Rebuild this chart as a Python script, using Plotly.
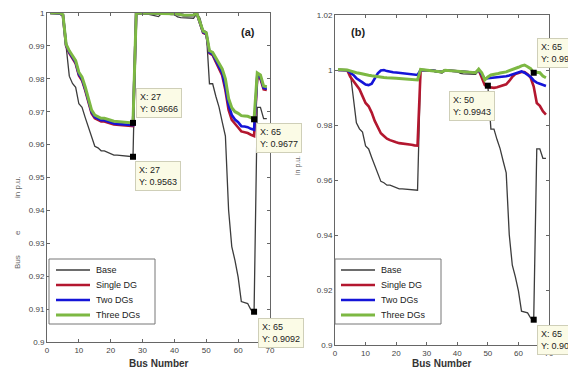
import plotly.graph_objects as go

buses = list(range(1, 70))

base = [1.0000, 1.0000, 0.9999, 0.9998, 0.9990, 0.9901, 0.9808, 0.9786, 0.9774, 0.9724,
        0.9713, 0.9682, 0.9653, 0.9624, 0.9595, 0.9590, 0.9581, 0.9581, 0.9576, 0.9573,
        0.9568, 0.9568, 0.9567, 0.9566, 0.9564, 0.9563, 0.9563, 0.9999, 0.9999, 0.9997,
        0.9997, 0.9996, 0.9993, 0.9990, 0.9989, 0.9999, 0.9997, 0.9996, 0.9995, 0.9995,
        0.9988, 0.9986, 0.9985, 0.9985, 0.9984, 0.9984, 0.9998, 0.9985, 0.9947, 0.9943,
        0.9785, 0.9785, 0.9747, 0.9714, 0.9669, 0.9626, 0.9401, 0.9290, 0.9248, 0.9197,
        0.9123, 0.9120, 0.9117, 0.9098, 0.9092, 0.9713, 0.9713, 0.9679, 0.9679]

# ---- panel (a) ----
single_a = [1.0000, 1.0000, 1.0000, 0.9999, 0.9993, 0.9900, 0.9878, 0.9862, 0.9846, 0.9810,
            0.9795, 0.9765, 0.9727, 0.9695, 0.9680, 0.9676, 0.9670, 0.9670, 0.9666, 0.9664,
            0.9661, 0.9660, 0.9659, 0.9658, 0.9657, 0.9656, 0.9656, 1.0000, 1.0000, 1.0000,
            1.0000, 0.9999, 0.9999, 0.9999, 0.9999, 1.0000, 1.0000, 0.9999, 0.9999, 0.9998,
            0.9997, 0.9994, 0.9993, 0.9993, 0.9993, 0.9994, 1.0000, 0.9970, 0.9940, 0.9935,
            0.9878, 0.9872, 0.9850, 0.9830, 0.9810, 0.9765, 0.9705, 0.9675, 0.9662, 0.9652,
            0.9640, 0.9638, 0.9635, 0.9630, 0.9626, 0.9805, 0.9800, 0.9768, 0.9766]
two_a = [1.0000, 1.0000, 1.0000, 0.9999, 0.9994, 0.9902, 0.9881, 0.9866, 0.9850, 0.9814,
         0.9799, 0.9769, 0.9731, 0.9699, 0.9684, 0.9680, 0.9674, 0.9674, 0.9670, 0.9668,
         0.9664, 0.9663, 0.9662, 0.9661, 0.9660, 0.9659, 0.9659, 1.0000, 1.0000, 1.0000,
         1.0000, 0.9999, 0.9999, 0.9999, 0.9999, 1.0000, 1.0000, 0.9999, 0.9999, 0.9998,
         0.9997, 0.9994, 0.9993, 0.9993, 0.9993, 0.9994, 1.0000, 0.9972, 0.9942, 0.9937,
         0.9880, 0.9875, 0.9855, 0.9836, 0.9818, 0.9775, 0.9720, 0.9690, 0.9676, 0.9668,
         0.9656, 0.9655, 0.9653, 0.9648, 0.9645, 0.9810, 0.9805, 0.9772, 0.9770]
three_a = [1.0000, 1.0000, 1.0000, 1.0000, 0.9995, 0.9905, 0.9885, 0.9870, 0.9855, 0.9820,
           0.9805, 0.9775, 0.9737, 0.9705, 0.9690, 0.9686, 0.9680, 0.9680, 0.9676, 0.9674,
           0.9671, 0.9670, 0.9669, 0.9668, 0.9667, 0.9666, 0.9666, 1.0000, 1.0000, 1.0000,
           1.0000, 0.9999, 0.9999, 0.9999, 0.9999, 1.0000, 1.0000, 0.9999, 0.9999, 0.9998,
           0.9997, 0.9994, 0.9993, 0.9993, 0.9993, 0.9994, 1.0000, 0.9975, 0.9945, 0.9940,
           0.9885, 0.9880, 0.9862, 0.9845, 0.9830, 0.9800, 0.9740, 0.9712, 0.9700, 0.9695,
           0.9688, 0.9687, 0.9686, 0.9682, 0.9677, 0.9818, 0.9812, 0.9778, 0.9776]

# ---- panel (b) ----
single_b = [1.0000, 1.0000, 1.0000, 0.9999, 0.9975, 0.9960, 0.9945, 0.9930, 0.9905, 0.9880,
            0.9868, 0.9845, 0.9815, 0.9790, 0.9770, 0.9760, 0.9750, 0.9745, 0.9740, 0.9737,
            0.9734, 0.9733, 0.9731, 0.9729, 0.9728, 0.9726, 0.9725, 1.0000, 1.0000, 0.9999,
            0.9999, 0.9998, 0.9996, 0.9994, 0.9993, 0.9999, 0.9998, 0.9997, 0.9996, 0.9996,
            0.9993, 0.9992, 0.9991, 0.9991, 0.9990, 0.9990, 1.0000, 0.9975, 0.9945, 0.9938,
            0.9936, 0.9935, 0.9937, 0.9940, 0.9944, 0.9948, 0.9960, 0.9975, 0.9985, 0.9990,
            0.9993, 0.9993, 0.9985, 0.9972, 0.9940, 0.9880, 0.9870, 0.9850, 0.9838]
two_b = [1.0000, 1.0000, 1.0000, 0.9999, 0.9990, 0.9982, 0.9970, 0.9964, 0.9955, 0.9947,
         0.9945, 0.9950, 0.9970, 0.9988, 0.9998, 1.0000, 0.9996, 0.9993, 0.9992, 0.9991,
         0.9990, 0.9989, 0.9988, 0.9986, 0.9984, 0.9983, 0.9982, 1.0000, 1.0000, 0.9999,
         0.9999, 0.9998, 0.9996, 0.9994, 0.9993, 0.9999, 0.9998, 0.9997, 0.9996, 0.9996,
         0.9993, 0.9992, 0.9991, 0.9991, 0.9990, 0.9990, 1.0000, 0.9985, 0.9968, 0.9970,
         0.9971, 0.9972, 0.9973, 0.9975, 0.9976, 0.9977, 0.9980, 0.9984, 0.9988, 0.9992,
         0.9995, 0.9990, 0.9982, 0.9975, 0.9962, 0.9954, 0.9950, 0.9945, 0.9942]
three_b = [1.0002, 1.0002, 1.0001, 1.0000, 0.9997, 0.9993, 0.9990, 0.9988, 0.9985, 0.9982,
           0.9981, 0.9979, 0.9977, 0.9975, 0.9973, 0.9973, 0.9972, 0.9972, 0.9971, 0.9970,
           0.9969, 0.9968, 0.9967, 0.9966, 0.9965, 0.9964, 0.9964, 1.0002, 1.0001, 0.9999,
           0.9999, 0.9998, 0.9996, 0.9994, 0.9993, 0.9999, 0.9998, 0.9997, 0.9996, 0.9996,
           0.9993, 0.9992, 0.9991, 0.9991, 0.9990, 0.9990, 1.0003, 0.9990, 0.9964, 0.9975,
           0.9982, 0.9983, 0.9986, 0.9989, 0.9991, 0.9993, 0.9998, 1.0003, 1.0006, 1.0010,
           1.0015, 1.0018, 1.0012, 1.0005, 0.9990, 0.9992, 0.9990, 0.9978, 0.9972]

series_names = ["Base", "Single DG", "Two DGs", "Three DGs"]
colors = ["#3c3c3c", "#b3172f", "#1414d8", "#7db843"]
widths = [1.3, 2.6, 2.6, 3.0]

x_ticks = [0, 10, 20, 30, 40, 50, 60, 70]
ya_ticks = [0.9, 0.91, 0.92, 0.93, 0.94, 0.95, 0.96, 0.97, 0.98, 0.99, 1.0]
ya_labels = ["0.9", "0.91", "0.92", "0.93", "0.94", "0.95", "0.96", "0.97", "0.98", "0.99", "1"]
yb_ticks = [0.9, 0.92, 0.94, 0.96, 0.98, 1.0, 1.02]
yb_labels = ["0.9", "0.92", "0.94", "0.96", "0.98", "1", "1.02"]

# data tips: (bus, series)
tips_a = [(27, three_a), (27, base), (65, three_a), (65, base)]
tips_b = [(50, base), (65, three_b), (65, base)]

# page has an 8px body margin; work in page pixels and convert
OFF = 8
W, H = 576 - OFF, 373 - OFF
def px(xp):
    return (xp - OFF) / W
def py(yp):
    return 1 - (yp - OFF) / H

fig = go.Figure()

for vals, nm, c, w in zip([base, single_a, two_a, three_a], series_names, colors, widths):
    fig.add_trace(go.Scatter(x=buses, y=vals, mode="lines", name=nm,
                             line=dict(color=c, width=w), xaxis="x", yaxis="y",
                             showlegend=False))
for vals, nm, c, w in zip([base, single_b, two_b, three_b], series_names, colors, widths):
    fig.add_trace(go.Scatter(x=buses, y=vals, mode="lines", name=nm,
                             line=dict(color=c, width=w), xaxis="x2", yaxis="y2",
                             showlegend=False))

fig.add_trace(go.Scatter(x=[b for b, s in tips_a], y=[s[b - 1] for b, s in tips_a],
                         mode="markers", marker=dict(symbol="square", size=6, color="black"),
                         showlegend=False, xaxis="x", yaxis="y"))
fig.add_trace(go.Scatter(x=[b for b, s in tips_b], y=[s[b - 1] for b, s in tips_b],
                         mode="markers", marker=dict(symbol="square", size=6, color="black"),
                         showlegend=False, xaxis="x2", yaxis="y2"))

def fmt(v):
    return f"{v:.4f}".rstrip("0")

tipfont = dict(family="Liberation Sans, Arial", size=9, color="#222")
anns = []
shapes = []
place_a = [("left", "bottom", 3, 5), ("left", "top", 2, -4), ("left", "top", 2, -4), ("left", "top", 4, -6)]
place_b = [("right", "top", 7, -5), ("left", "bottom", 3, 5), ("left", "top", 3, -5)]
for tips, place, xr, yr in [(tips_a, place_a, "x", "y"), (tips_b, place_b, "x2", "y2")]:
    for (b, s), (xa, ya, xs, ys) in zip(tips, place):
        anns.append(dict(x=b, y=s[b - 1], xref=xr, yref=yr, showarrow=False,
                         text=f"X: {b}<br>Y: {fmt(s[b - 1])}", align="left",
                         xanchor=xa, yanchor=ya, xshift=xs, yshift=ys, font=tipfont,
                         bgcolor="#fbfbe6", bordercolor="#cfcfb8", borderwidth=1, borderpad=3))

def label(xp, yp, txt, font, angle=0):
    anns.append(dict(x=px(xp), y=py(yp), xref="paper", yref="paper", text=txt,
                     textangle=angle, showarrow=False, font=font,
                     xanchor="center", yanchor="middle"))

lblfont = dict(family="Liberation Sans, Arial", size=11, color="#222")
label(248, 32, "<b>(a)</b>", lblfont)
label(358, 32, "<b>(b)</b>", lblfont)
xtfont = dict(family="Liberation Sans, Arial", size=10, color="#333")
label(159, 363, "<b>Bus Number</b>", xtfont)
label(442, 363, "<b>Bus Number</b>", xtfont)
ylfont = dict(family="Liberation Sans, Arial", size=8, color="#666")
for txt, yp in [("Bus", 262), ("e", 233), ("in p.u.", 187)]:
    label(17, yp, txt, ylfont, -90)
label(298, 166, "in p.u.", dict(family="Liberation Sans, Arial", size=7, color="#666"), -90)

# compact MATLAB-style legend boxes
legfont = dict(family="Liberation Sans, Arial", size=9, color="#222")
item_y = [270, 285, 300, 315]
for bx0, bx1, lx0, lx1, tx in [(49, 155, 56, 90, 94), (335, 441, 341, 375, 379)]:
    shapes.append(dict(type="rect", xref="paper", yref="paper",
                       x0=px(bx0), x1=px(bx1), y0=py(324), y1=py(259),
                       line=dict(color="#777", width=1), fillcolor="white", layer="above"))
    for nm, c, w, yy in zip(series_names, colors, widths, item_y):
        shapes.append(dict(type="line", xref="paper", yref="paper",
                           x0=px(lx0), x1=px(lx1), y0=py(yy), y1=py(yy),
                           line=dict(color=c, width=w), layer="above"))
        anns.append(dict(x=px(tx), y=py(yy), xref="paper", yref="paper", text=nm,
                         xanchor="left", yanchor="middle", showarrow=False, font=legfont))

tickfont = dict(family="Liberation Sans, Arial", size=8, color="#444")
axcommon = dict(showline=True, linecolor="#666", linewidth=1, mirror="allticks",
                ticks="inside", ticklen=3, tickcolor="#666", showgrid=False,
                zeroline=False, tickfont=tickfont, automargin=False)

fig.update_layout(
    width=W, height=H,
    margin=dict(l=0, r=0, t=0, b=0),
    paper_bgcolor="white", plot_bgcolor="white",
    xaxis=dict(domain=[px(47), px(270)], range=[0, 70], tickvals=x_ticks, anchor="y", **axcommon),
    yaxis=dict(domain=[py(342), py(13)], range=[0.9, 1.0], tickvals=ya_ticks,
               ticktext=ya_labels, anchor="x", **axcommon),
    xaxis2=dict(domain=[px(335), px(549)], range=[0, 70], tickvals=x_ticks, anchor="y2", **axcommon),
    yaxis2=dict(domain=[py(345), py(15)], range=[0.9, 1.02], tickvals=yb_ticks,
                ticktext=yb_labels, anchor="x2", **axcommon),
    annotations=anns,
    shapes=shapes,
    showlegend=False,
)

fig.write_html("out.html")
